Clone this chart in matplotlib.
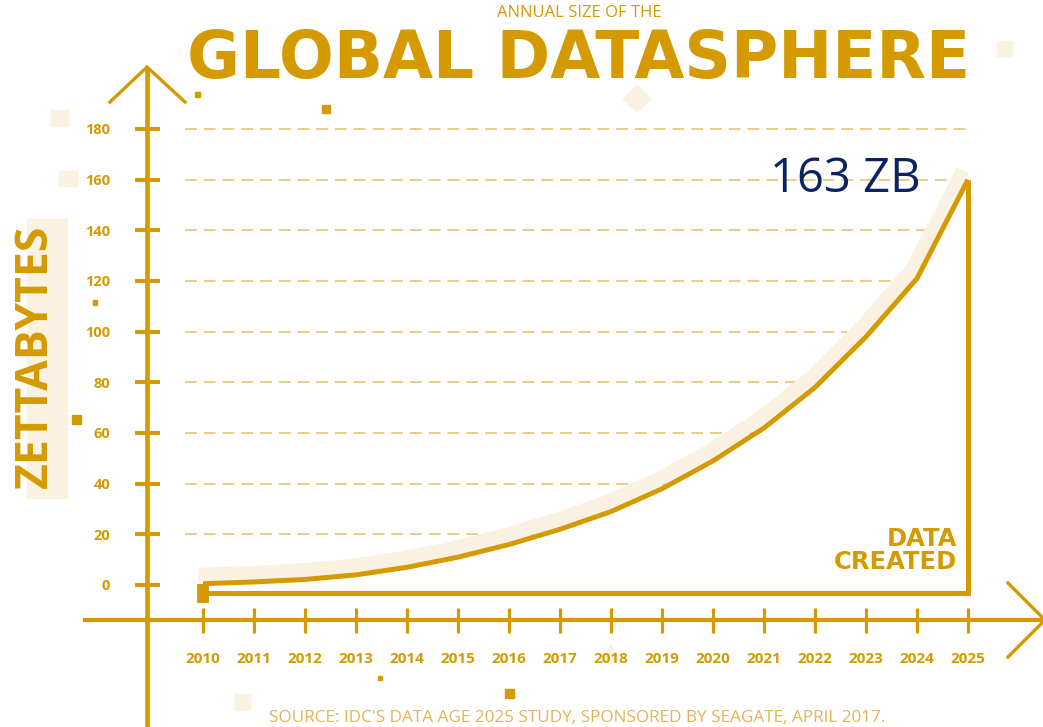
import matplotlib.pyplot as plt
from matplotlib.patches import Rectangle, Polygon
from matplotlib.transforms import offset_copy

plt.rcParams['font.family'] = ['Open Sans', 'DejaVu Sans']
plt.rcParams['lines.scale_dashes'] = False

GOLD = '#D59A00'
GOLD_LIGHT = '#EBC77E'
CREAM = '#FAF1E1'
NAVY = '#0B2461'

# data (zettabytes created per year)
years = list(range(2010, 2026))
zettabytes = [0.5, 1.2, 2.2, 4.0, 7.0, 11.0, 16.0, 22.0, 29.0, 38.0,
              49.0, 62.0, 78.0, 98.0, 121.0, 160.0]
y_ticks = list(range(0, 181, 20))
grid_levels = list(range(20, 181, 20))
final_label = '163 ZB'

W, H = 1043, 727
fig = plt.figure(figsize=(W / 100, H / 100), dpi=100)
ax = fig.add_axes([0, 0, 1, 1])
ax.patch.set_visible(False)

# calibrate the axes so years / ZB land where they sit in the picture
xs = 15 / (968 - 203)
ys = 180 / (585 - 129)
ax.set_xlim(2010 - 203 * xs, 2010 + (W - 203) * xs)
ax.set_ylim(-(H - 585) * ys, 585 * ys)


def dx(x):
    return 2010 + (x - 203) * xs


def dy(y):
    return (585 - y) * ys


def fx(x, y):
    return x / W, 1 - y / H


# axes lines
for s in ['top', 'right']:
    ax.spines[s].set_visible(False)
ax.spines['left'].set_position(('data', dx(147)))
ax.spines['bottom'].set_position(('data', dy(620)))
ax.spines['left'].set_bounds(dy(H), dy(67))
ax.spines['bottom'].set_bounds(dx(85), dx(W))
ax.spines['left'].set_linewidth(3.4)
ax.spines['bottom'].set_linewidth(3.0)
ax.spines['left'].set_color(GOLD)
ax.spines['bottom'].set_color(GOLD)
ax.spines['left'].set_capstyle('butt')

ax.set_xticks(years)
ax.set_xticklabels([str(y) for y in years], fontweight='bold')
ax.set_yticks(y_ticks)
ax.set_yticklabels([str(v) for v in y_ticks], fontweight='bold')
ax.tick_params(axis='both', direction='inout', color=GOLD, labelcolor=GOLD)
ax.tick_params(axis='x', length=18, width=2.3, pad=14, labelsize=11)
ax.tick_params(axis='y', length=18, width=2.9, pad=17.5, labelsize=10.5)

# arrow heads
ax.plot([dx(110), dx(147), dx(185)], [dy(102), dy(67), dy(102)], color=GOLD,
        lw=2.4, solid_joinstyle='miter', clip_on=False)
ax.plot([dx(1008), dx(1045), dx(1008)], [dy(583), dy(620), dy(657)], color=GOLD,
        lw=2.4, solid_joinstyle='miter', clip_on=False)

# dashed guide lines, hidden below the curve
for lv in grid_levels:
    ax.plot([dx(185), years[-1]], [lv, lv], color=GOLD_LIGHT, lw=1.3,
            dashes=(8.5, 5), zorder=1)

frame_y = dy(593)
ax.fill_between(years, frame_y, zettabytes, color='white', lw=0, zorder=2)

# cream shadow + curve
shadow = offset_copy(ax.transData, fig=fig, x=-5, y=9, units='dots')
ax.plot(years, zettabytes, color=CREAM, lw=10, transform=shadow, zorder=3,
        solid_capstyle='butt', solid_joinstyle='round')
ax.plot(years, zettabytes, color=GOLD, lw=3.6, zorder=5,
        solid_joinstyle='round', solid_capstyle='butt')

# "data created" bracket
ax.plot([years[-1], years[-1], years[0]], [zettabytes[-1], frame_y, frame_y],
        color=GOLD, lw=3.6, zorder=5, solid_joinstyle='miter', solid_capstyle='butt')
ax.plot([years[0], years[0]], [zettabytes[0], dy(603)], color=GOLD, lw=8.5,
        zorder=5, solid_capstyle='butt')

fig.text(*fx(957, 546), 'DATA', ha='right', va='baseline', fontsize=17.5,
         fontweight='bold', color=GOLD, family='DejaVu Sans')
fig.text(*fx(957, 569), 'CREATED', ha='right', va='baseline', fontsize=17.5,
         fontweight='bold', color=GOLD, family='DejaVu Sans')
fig.text(*fx(845, 192), final_label, ha='center', va='baseline', fontsize=34,
         color=NAVY)

# titles
fig.text(*fx(579, 17), 'ANNUAL SIZE OF THE', ha='center', va='baseline',
         fontsize=12, color=GOLD)
fig.text(*fx(579, 78), 'GLOBAL DATASPHERE', ha='center', va='baseline',
         fontsize=46.5, fontweight='bold', color=GOLD, family='DejaVu Sans')
fig.text(*fx(577, 722), "SOURCE: IDC'S DATA AGE 2025 STUDY, SPONSORED BY SEAGATE, APRIL 2017.",
         ha='center', va='baseline', fontsize=12.3, color='#E3B458')

# y label on a cream band
fig.add_artist(Rectangle(fx(27, 498), 40 / W, 279 / H, transform=fig.transFigure,
                         color=CREAM, zorder=-1))
fig.text(*fx(47, 356), 'ZETTABYTES', rotation=90, rotation_mode='anchor',
         ha='center', va='baseline', fontsize=32, fontweight='bold', color=GOLD,
         zorder=3)

# decorative bits, kept behind the chart
for x, y, w, h, c in [(51, 110, 17, 16, CREAM), (59, 171, 18, 15, CREAM),
                      (997, 41, 15, 15, CREAM), (235, 694, 15, 16, CREAM),
                      (195, 92, 5, 5, GOLD), (322, 105, 8, 8, GOLD),
                      (93, 300, 4, 5, GOLD), (72, 415, 9, 9, GOLD),
                      (378, 676, 4, 4, GOLD), (505, 689, 9, 9, GOLD)]:
    fig.add_artist(Rectangle(fx(x, y + h), w / W, h / H, transform=fig.transFigure,
                             color=c, zorder=-1))
fig.add_artist(Polygon([fx(623, 99), fx(637, 86), fx(651, 99), fx(637, 112)],
                       transform=fig.transFigure, color=CREAM, zorder=-1))
fig.add_artist(Polygon([fx(603, 661), fx(611, 645), fx(619, 661)],
                       transform=fig.transFigure, color=CREAM, zorder=-1))

fig.savefig('out.png', dpi=100)
